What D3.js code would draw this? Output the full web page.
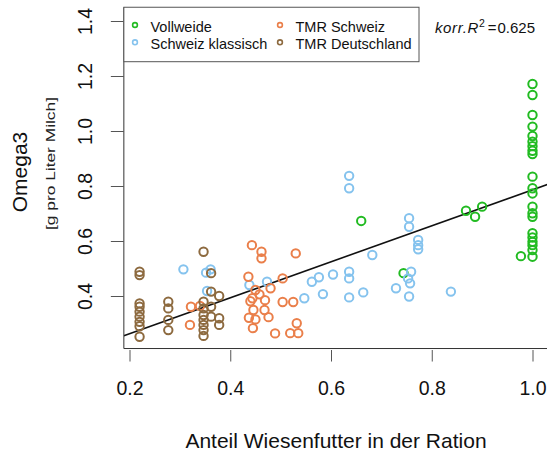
<!DOCTYPE html>
<html>
<head>
<meta charset="utf-8">
<script src="https://cdn.jsdelivr.net/npm/d3@7"></script>
<style>
  body { margin: 0; background: #fff; }
  svg { font-family: "Liberation Sans", Arial, sans-serif; }
</style>
</head>
<body>
<svg id="chart" width="547" height="453"></svg>
<script>
// Values
const groups = ["Vollweide", "Schweiz klassisch", "TMR Schweiz", "TMR Deutschland"];

const vollweideX = [1, 1, 1, 1, 1, 1, 1, 1, 1, 1, 1, 1, 1, 1, 1, 1, 1, 1, 1, 1, 1,
  0.977, 0.868, 0.886, 0.900, 0.660, 0.744];
const vollweideY = [1.171, 1.131, 1.058, 1.016, 0.982, 0.961, 0.945, 0.928, 0.916, 0.834, 0.792,
  0.773, 0.725, 0.701, 0.688, 0.628, 0.613, 0.597, 0.585, 0.567, 0.543,
  0.545, 0.710, 0.688, 0.725, 0.673, 0.483];

const klassischX = [0.636, 0.636, 0.755, 0.755, 0.773, 0.773, 0.773, 0.682, 0.604, 0.636, 0.636,
  0.759, 0.753, 0.757, 0.664, 0.729, 0.636, 0.755, 0.838, 0.562, 0.576, 0.547, 0.584,
  0.473, 0.307, 0.352, 0.361, 0.354, 0.438];
const klassischY = [0.837, 0.792, 0.683, 0.652, 0.604, 0.585, 0.570, 0.549, 0.478, 0.488, 0.464,
  0.488, 0.464, 0.446, 0.413, 0.428, 0.395, 0.398, 0.416, 0.452, 0.468, 0.392, 0.407,
  0.452, 0.497, 0.485, 0.497, 0.418, 0.440];

const tmrSchweizX = [0.443, 0.462, 0.462, 0.530, 0.436, 0.504, 0.480, 0.450, 0.458, 0.444,
  0.440, 0.469, 0.504, 0.525, 0.468, 0.446, 0.476, 0.437, 0.450, 0.532, 0.445,
  0.489, 0.519, 0.535, 0.322, 0.340, 0.320];
const tmrSchweizY = [0.585, 0.561, 0.537, 0.555, 0.470, 0.464, 0.428, 0.422, 0.406, 0.392,
  0.381, 0.385, 0.378, 0.378, 0.349, 0.349, 0.323, 0.321, 0.315, 0.301, 0.283,
  0.264, 0.265, 0.265, 0.361, 0.364, 0.295];

const tmrDeutschX = [0.22, 0.22, 0.22, 0.22, 0.22, 0.22, 0.22, 0.22, 0.22,
  0.277, 0.277, 0.277, 0.277,
  0.347, 0.347, 0.347, 0.347, 0.347, 0.347, 0.347, 0.347,
  0.362, 0.362, 0.362, 0.362,
  0.378, 0.378, 0.378];
const tmrDeutschY = [0.488, 0.476, 0.373, 0.361, 0.343, 0.325, 0.306, 0.290, 0.252,
  0.379, 0.355, 0.313, 0.276,
  0.561, 0.379, 0.355, 0.331, 0.313, 0.295, 0.276, 0.255,
  0.483, 0.416, 0.361, 0.325,
  0.400, 0.319, 0.295];

// fitted line: intercept, slope
const fitCoef = [0.132, 0.654];
const r2Text = "0.625";

const xTicks = [0.2, 0.4, 0.6, 0.8, 1.0];
const yTicks = [0.4, 0.6, 0.8, 1.0, 1.2, 1.4];

const colors = ["#22bb22", "#85c3ee", "#ea7f4a", "#8d6a3f"];

const seriesX = [vollweideX, klassischX, tmrSchweizX, tmrDeutschX];
const seriesY = [vollweideY, klassischY, tmrSchweizY, tmrDeutschY];

const svg = d3.select("#chart");

// scales
const x = d3.scaleLinear().domain([0.2, 1.0]).range([129.5, 532.5]);
const y = d3.scaleLinear().domain([0.4, 1.4]).range([296, 21]);

const xlim = [0.1888, 1.0312];
const ylim = [0.209, 1.45];
const plotLeft = x(xlim[0]), plotRight = x(xlim[1]);
const plotTop = y(ylim[1]), plotBottom = y(ylim[0]);

svg.append("defs").append("clipPath").attr("id", "plot-clip")
  .append("rect")
  .attr("x", plotLeft).attr("y", plotTop)
  .attr("width", plotRight - plotLeft).attr("height", plotBottom - plotTop);

const plot = svg.append("g").attr("clip-path", "url(#plot-clip)");

// regression line
plot.append("line")
  .attr("x1", x(xlim[0])).attr("y1", y(fitCoef[0] + fitCoef[1] * xlim[0]))
  .attr("x2", x(xlim[1])).attr("y2", y(fitCoef[0] + fitCoef[1] * xlim[1]))
  .attr("stroke", "#111")
  .attr("stroke-width", 1.6);

// points
groups.forEach((g, i) => {
  const pts = seriesX[i].map((v, j) => ({ x: v, y: seriesY[i][j] }));
  plot.append("g").selectAll("circle")
    .data(pts)
    .enter()
    .append("circle")
    .attr("cx", d => x(d.x))
    .attr("cy", d => y(d.y))
    .attr("r", 4.2)
    .attr("fill", "none")
    .attr("stroke", colors[i])
    .attr("stroke-width", 2);
});

// L-shaped frame
svg.append("path")
  .attr("d", `M${plotLeft},${plotTop}V${plotBottom}H${plotRight}`)
  .attr("fill", "none")
  .attr("stroke", "#333")
  .attr("stroke-width", 1);

// y axis
const yAxis = svg.append("g")
  .attr("transform", "translate(" + plotLeft + ",0)")
  .call(d3.axisLeft(y).tickValues(yTicks).tickSize(13).tickFormat(d3.format(".1f")));
yAxis.select(".domain").remove();
yAxis.selectAll(".tick line").attr("stroke", "#555");
yAxis.selectAll(".tick text")
  .attr("x", null).attr("dy", null)
  .attr("transform", "translate(" + (92 - plotLeft) + ",0) rotate(-90)")
  .attr("text-anchor", "middle")
  .attr("fill", "#111")
  .style("font-size", "19.5px")
  .style("font-family", "Liberation Sans, Arial, sans-serif");

// x axis
const xAxis = svg.append("g")
  .attr("transform", "translate(0," + plotBottom + ")")
  .call(d3.axisBottom(x).tickValues(xTicks).tickSize(13).tickFormat(d3.format(".1f")));
xAxis.select(".domain").remove();
xAxis.selectAll(".tick line").attr("stroke", "#555").attr("y1", 1.5);
xAxis.selectAll(".tick text")
  .attr("y", 46.5).attr("dy", null)
  .attr("fill", "#111")
  .style("font-size", "19.5px")
  .style("font-family", "Liberation Sans, Arial, sans-serif");

// axis titles
svg.append("text")
  .attr("transform", "translate(27,172) rotate(-90)")
  .attr("text-anchor", "middle")
  .style("font-size", "21px")
  .attr("fill", "#111")
  .text("Omega3");

svg.append("text")
  .attr("transform", "translate(55,163.5) rotate(-90)")
  .attr("text-anchor", "middle")
  .attr("textLength", 133)
  .attr("lengthAdjust", "spacingAndGlyphs")
  .style("font-size", "12px")
  .attr("fill", "#222")
  .text("[g pro Liter Milch]");

svg.append("text")
  .attr("x", 336).attr("y", 448)
  .attr("text-anchor", "middle")
  .style("font-size", "21px")
  .attr("fill", "#111")
  .text("Anteil Wiesenfutter in der Ration");

// legend
const legend = svg.append("g");
legend.append("rect")
  .attr("x", plotLeft).attr("y", plotTop)
  .attr("width", 419 - plotLeft).attr("height", 61.7 - plotTop)
  .attr("fill", "#fff")
  .attr("stroke", "#555")
  .attr("stroke-width", 1);

const legendPos = [[135, 25], [135, 42.3], [280, 25], [280, 42.3]];
groups.forEach((g, i) => {
  legend.append("circle")
    .attr("cx", legendPos[i][0]).attr("cy", legendPos[i][1])
    .attr("r", 2.4)
    .attr("fill", "none")
    .attr("stroke", colors[i])
    .attr("stroke-width", 1.6);
  legend.append("text")
    .attr("x", legendPos[i][0] + 15.5).attr("y", legendPos[i][1] + 6.5)
    .style("font-size", "14.5px")
    .attr("fill", "#111")
    .text(g);
});

// R^2 annotation
const r2 = svg.append("text")
  .attr("x", 435).attr("y", 33.3)
  .style("font-size", "15px")
  .attr("fill", "#111");
r2.append("tspan").style("font-style", "italic").attr("letter-spacing", "0.6px").text("korr.R");
r2.append("tspan").attr("dy", -6).style("font-size", "10.5px").text("2");
r2.append("tspan").attr("dy", 6).attr("dx", 3).text("=");
r2.append("tspan").attr("dx", 1).text(r2Text);
</script>
</body>
</html>
